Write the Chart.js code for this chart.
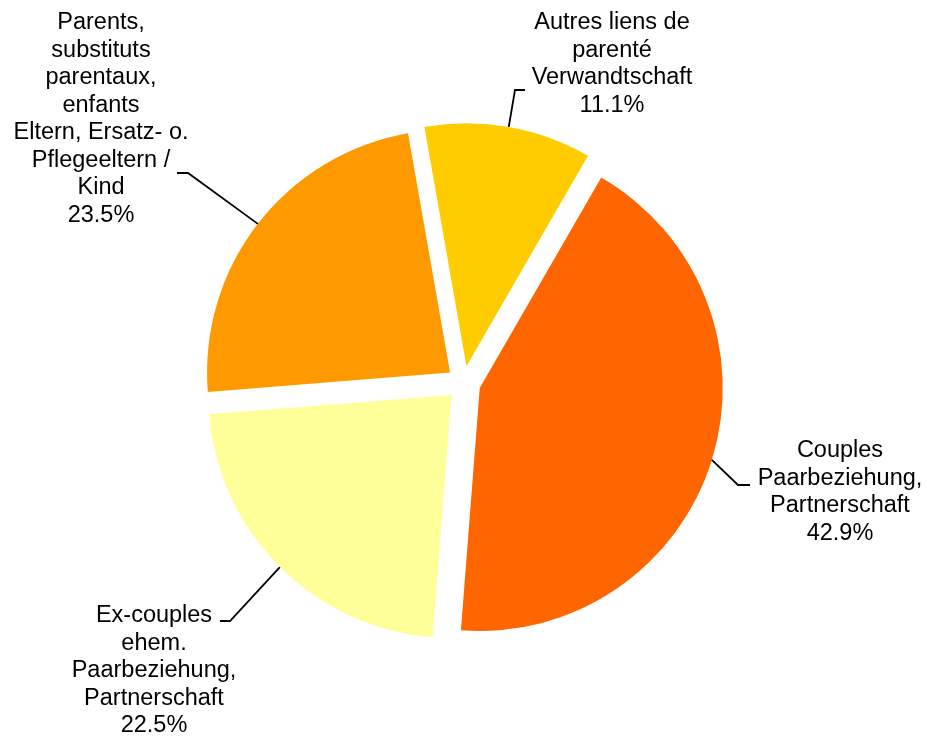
<!DOCTYPE html>
<html>
<head>
<meta charset="utf-8">
<script src="https://cdn.jsdelivr.net/npm/chart.js@4.4.1/dist/chart.umd.min.js"></script>
<style>
  html, body { margin: 0; padding: 0; background: #fff; }
  #wrap { width: 927px; height: 737px; }
</style>
</head>
<body>
<div id="wrap"><canvas id="myChart" width="927" height="737"></canvas></div>
<script>
const categories = [
    ['Couples', 'Paarbeziehung,', 'Partnerschaft'],
    ['Ex-couples', 'ehem.', 'Paarbeziehung,', 'Partnerschaft'],
    ['Parents,', 'substituts', 'parentaux,', 'enfants', 'Eltern, Ersatz- o.', 'Pflegeeltern /', 'Kind'],
    ['Autres liens de', 'parenté', 'Verwandtschaft']
];
const shares = [42.9, 22.5, 23.5, 11.1];
const sliceColors = ['#FF6600', '#FFFF99', '#FF9900', '#FFCC00'];

// label blocks: centre x, first baseline, leader elbow and leader end
const labelLayout = [
    { x: 840, y: 457, elbow: [738, 485], end: [750, 485] },
    { x: 154, y: 622, elbow: [230, 621], end: [220, 621] },
    { x: 101, y: 29, elbow: [188, 173], end: [177, 173] },
    { x: 612, y: 29, elbow: [515, 90], end: [525, 90] }
];
const EXPLODE = 17;
const LINE_H = 27.5;

// pull every slice out along its middle angle
const explodedSlices = {
    id: 'explodedSlices',
    beforeDatasetDraw(chart, args) {
        const ctx = chart.ctx;
        args.meta.data.forEach(arc => {
            const mid = (arc.startAngle + arc.endAngle) / 2;
            ctx.save();
            ctx.translate(Math.cos(mid) * EXPLODE, Math.sin(mid) * EXPLODE);
            arc.draw(ctx);
            ctx.restore();
        });
        return false;
    }
};

const outsideLabels = {
    id: 'outsideLabels',
    afterDatasetsDraw(chart) {
        const ctx = chart.ctx;
        const meta = chart.getDatasetMeta(0);
        ctx.save();
        meta.data.forEach((arc, i) => {
            const mid = (arc.startAngle + arc.endAngle) / 2;
            const r = arc.outerRadius + EXPLODE;
            const sx = arc.x + Math.cos(mid) * r;
            const sy = arc.y + Math.sin(mid) * r;
            const lay = labelLayout[i];

            ctx.strokeStyle = '#000';
            ctx.lineWidth = 1.8;
            ctx.beginPath();
            ctx.moveTo(sx, sy);
            ctx.lineTo(lay.elbow[0], lay.elbow[1]);
            ctx.lineTo(lay.end[0], lay.end[1]);
            ctx.stroke();

            const lines = categories[i].concat([shares[i].toFixed(1) + '%']);
            ctx.fillStyle = '#000';
            ctx.font = '23.5px "Liberation Sans", Arial, sans-serif';
            ctx.textAlign = 'center';
            ctx.textBaseline = 'alphabetic';
            lines.forEach((t, k) => ctx.fillText(t, lay.x, lay.y + k * LINE_H));
        });
        ctx.restore();
    }
};

const data = {
    labels: categories.map(c => c.join(' ')),
    datasets: [{
        data: shares,
        backgroundColor: sliceColors,
        borderWidth: 0
    }]
};

const config = {
    type: 'pie',
    data: data,
    options: {
        responsive: false,
        animation: false,
        rotation: 30,
        layout: { padding: { top: 140, bottom: 111, left: 0, right: 0 } },
        plugins: {
            legend: { display: false },
            tooltip: { enabled: false }
        }
    },
    plugins: [explodedSlices, outsideLabels]
};

const myChart = new Chart(document.getElementById('myChart'), config);
</script>
</body>
</html>
